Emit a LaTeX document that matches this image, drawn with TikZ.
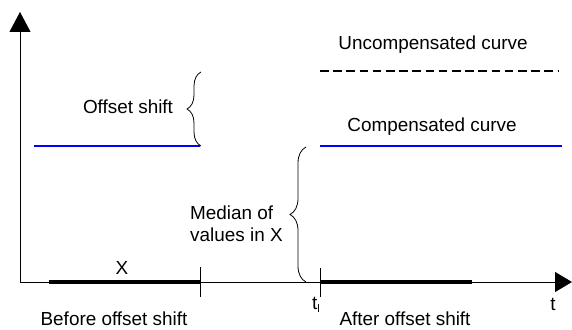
\documentclass[tikz,border=0pt]{standalone}
\usepackage{fontspec}
\setmainfont{Liberation Sans}
\usetikzlibrary{arrows.meta,decorations.pathreplacing}
\begin{document}
\begin{tikzpicture}[x=1pt,y=-1pt,
  lbl/.style={inner sep=0pt, font=\fontsize{18.9}{22}\selectfont},
  axis/.style={line width=0.9pt},
  interval/.style={line width=4.5pt},
  tickmark/.style={line width=0.9pt},
  curve/.style={line width=1.5pt, blue},
  uncomp/.style={line width=1.5pt, dash pattern=on 8.5pt off 4.7pt},
  bracestyle/.style={line width=0.8pt, decorate, decoration={brace, amplitude=#1}}]
\useasboundingbox (0,0) rectangle (572,329);

% axes
\coordinate (O) at (20,282);
\coordinate (ytop) at (20,12);
\coordinate (xend) at (572,282);
\draw[axis,-{Triangle[width=21pt,length=20pt]}] (O) -- (ytop);
\draw[axis,-{Triangle[width=20pt,length=17pt]}] (O) -- (xend);

% measurement intervals on the time axis
\coordinate (xa) at (49,282);
\coordinate (xb) at (200,282);
\coordinate (ta) at (320,282);
\coordinate (tb) at (472,282);
\draw[interval] (xa) -- (xb);
\draw[interval] (ta) -- (tb);

% tick marks
\coordinate (k1a) at (200,267);
\coordinate (k1b) at (200,297);
\coordinate (k2a) at (320,268);
\coordinate (k2b) at (320,297);
\draw[tickmark] (k1a) -- (k1b);
\draw[tickmark] (k2a) -- (k2b);

% curves
\coordinate (c1a) at (34,146);
\coordinate (c1b) at (200,146);
\coordinate (c2a) at (320,146);
\coordinate (c2b) at (562,146);
\coordinate (u1) at (320,71);
\coordinate (u2) at (558,71);
\draw[curve] (c1a) -- (c1b);
\draw[curve] (c2a) -- (c2b);
\draw[uncomp] (u1) -- (u2);

% braces
\coordinate (b1lo) at (201,146);
\coordinate (b1hi) at (201,72);
\coordinate (b2lo) at (306,282);
\coordinate (b2hi) at (306,147);
\draw[bracestyle=14pt] (b1lo) -- (b1hi);
\draw[bracestyle=16pt] (b2lo) -- (b2hi);

% labels
\node[lbl] (lx) at (122,268) {X};
\node[lbl] (lbefore) at (114,319) {Before offset shift};
\node[lbl] (lafter) at (405,319) {After offset shift};
\node[lbl] (lt) at (553,304) {t};
\node[lbl] (lt1) at (316,305) {t\raisebox{-3pt}{\fontsize{11}{11}\selectfont l}};
\node[lbl] (loffset) at (128,107) {Offset shift};
\node[lbl] (lunc) at (433,45) {Uncompensated curve};
\node[lbl] (lcomp) at (432,127) {Compensated curve};
\node[lbl, anchor=west, align=left] (lmed) at (190,224) {Median of\\values in X};
\end{tikzpicture}
\end{document}
